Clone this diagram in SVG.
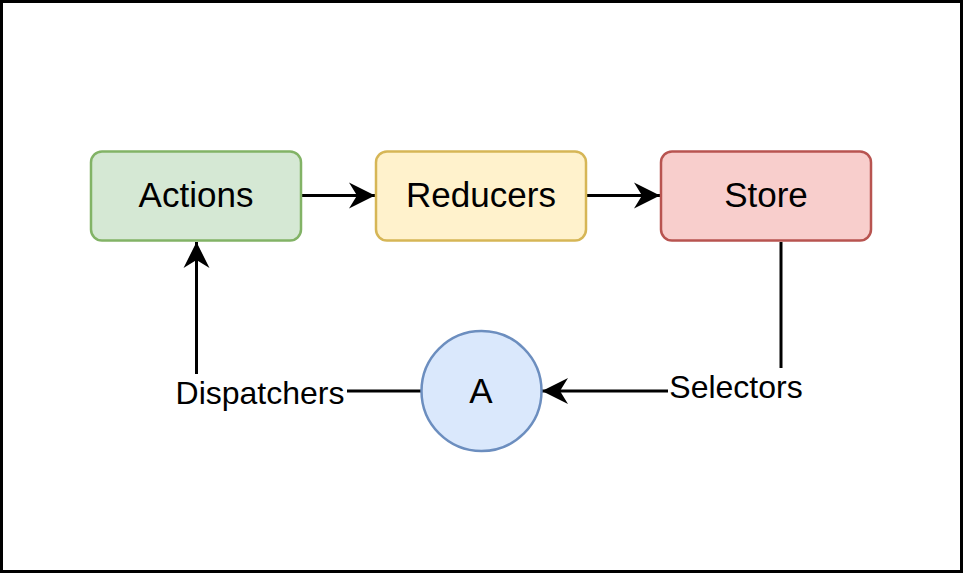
<svg xmlns="http://www.w3.org/2000/svg" width="963" height="573" viewBox="0 0 963 573">
<style>
.lbl{font-family:"Liberation Sans",Arial,sans-serif;font-size:35px;fill:#000;text-anchor:middle}
.elbl{font-family:"Liberation Sans",Arial,sans-serif;font-size:32px;fill:#000;text-anchor:middle}
.node{stroke-width:2.5}
.edge{fill:none;stroke:#000;stroke-width:3}
</style>
<defs>
<marker id="arr" markerUnits="userSpaceOnUse" viewBox="-28 -14 30 28" refX="0" refY="0" markerWidth="30" markerHeight="28" orient="auto">
<path d="M0,0 L-26,-13 L-18,0 L-26,13 Z" fill="#000"/>
</marker>
</defs>
<rect x="1.5" y="1.5" width="960" height="570" fill="#fff" stroke="#000" stroke-width="3"/>
<g id="edges">
<line class="edge" x1="302" y1="195.5" x2="375" y2="195.5" marker-end="url(#arr)"/>
<line class="edge" x1="587" y1="195.5" x2="660" y2="195.5" marker-end="url(#arr)"/>
<polyline class="edge" points="781,242 781,368"/>
<line class="edge" x1="668" y1="391" x2="542" y2="391" marker-end="url(#arr)"/>
<text class="elbl" x="736" y="398">Selectors</text>
<line class="edge" x1="421" y1="391" x2="347" y2="391"/>
<polyline class="edge" points="196.5,374 196.5,242" marker-end="url(#arr)"/>
<text class="elbl" x="260" y="404">Dispatchers</text>
</g>
<g id="actions">
<rect class="node" x="91" y="151.5" width="210" height="89" rx="11" fill="#d5e8d4" stroke="#82b366"/>
<text class="lbl" x="196" y="207">Actions</text>
</g>
<g id="reducers">
<rect class="node" x="376" y="151.5" width="210" height="89" rx="11" fill="#fff2cc" stroke="#d6b656"/>
<text class="lbl" x="481" y="207">Reducers</text>
</g>
<g id="store">
<rect class="node" x="661" y="151.5" width="210" height="89" rx="11" fill="#f8cecc" stroke="#b85450"/>
<text class="lbl" x="766" y="207">Store</text>
</g>
<g id="a">
<circle class="node" cx="481.5" cy="391" r="60" fill="#dae8fc" stroke="#6c8ebf"/>
<text class="lbl" x="481" y="403">A</text>
</g>
</svg>
